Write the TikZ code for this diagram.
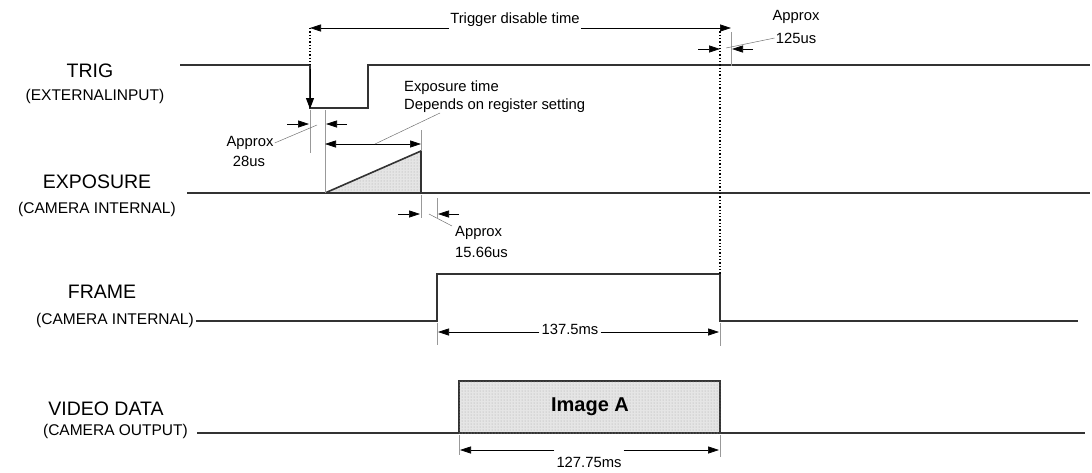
\documentclass[tikz,border=0pt]{standalone}
\usepackage{fontspec}
\setmainfont{Liberation Sans}
\usetikzlibrary{arrows.meta,patterns,calc}
\begin{document}
\begin{tikzpicture}[x=1pt,y=-1pt,
  sig/.style={line width=1.6pt, draw=black!80, line join=miter},
  tip/.style={line width=0.6pt, -{Triangle[length=11pt,width=7pt]}},
  dim/.style={line width=0.6pt, {Triangle[length=11pt,width=7pt]}-{Triangle[length=11pt,width=7pt]}},
  ext/.style={line width=0.7pt, draw=black!40},
  lead/.style={line width=0.5pt, draw=black!55},
  dots/.style={line width=1.3pt, dotted},
  sname/.style={font=\fontsize{19.5}{19.5}\selectfont, inner sep=0pt},
  ssub/.style={font=\fontsize{15.5}{15.5}\selectfont, inner sep=0pt},
  small/.style={font=\fontsize{14.8}{14.8}\selectfont, inner sep=1pt},
  shade/.style={fill=black!10, postaction={pattern=dots, pattern color=black!35}}
]
\useasboundingbox (0,0) rectangle (1092,472);

% ---------- labels ----------
\node[sname] (trig) at (90,71) {TRIG};
\node[ssub] (trigsub) at (95,96) {(EXTERNALINPUT)};
\node[sname] (expo) at (97,182) {EXPOSURE};
\node[ssub] (exposub) at (97,209) {(CAMERA INTERNAL)};
\node[sname] (frame) at (102,292) {FRAME};
\node[ssub, anchor=east] (framesub) at (194,320) {(CAMERA INTERNAL)};
\node[sname] (video) at (106,409) {VIDEO DATA};
\node[ssub, anchor=east] (videosub) at (188,431) {(CAMERA OUTPUT)};

% ---------- coordinates ----------
\coordinate (t0) at (180,65);
\coordinate (t1) at (310,65);
\coordinate (t2) at (310,108);
\coordinate (t3) at (368,108);
\coordinate (t4) at (368,65);
\coordinate (t5) at (1090,65);
\coordinate (ttop) at (310,28);
\coordinate (tarA) at (310,69);
\coordinate (tarB) at (310,109);

\coordinate (e0) at (187,193);
\coordinate (e1) at (325,193);
\coordinate (e2) at (421,151);
\coordinate (e3) at (421,193);
\coordinate (e4) at (1090,193);

\coordinate (f0) at (196,321);
\coordinate (f1) at (437,321);
\coordinate (f2) at (437,274);
\coordinate (f3) at (720,274);
\coordinate (f4) at (720,321);
\coordinate (f5) at (1078,321);
\coordinate (dtop) at (720,28);

\coordinate (v0) at (197,433);
\coordinate (v1) at (1085,433);
\coordinate (vb1) at (459,381);
\coordinate (vb2) at (720,433);

% ---------- signals ----------
\draw[shade] (e1) -- (e2) -- (e3) -- cycle;
\draw[sig] (t0) -- (t1) -- (t2) -- (t3) -- (t4) -- (t5);
\draw[sig] (e0) -- (e4);
\draw[sig] (e1) -- (e2) -- (e3);
\draw[sig] (f0) -- (f1) -- (f2) -- (f3) -- (f4) -- (f5);
\draw[sig] (v0) -- (v1);
\draw[sig, shade] (vb1) rectangle (vb2);
\node[font=\bfseries\fontsize{20}{20}\selectfont] (imga) at (590,407) {Image A};

% trigger edge arrow and dotted markers
\draw[dots] (ttop) -- (t1);
\draw[line width=1pt, -{Triangle[length=11pt,width=8pt]}] (tarA) -- (tarB);
\draw[dots] (dtop) -- (f3);

% ---------- Trigger disable time ----------
\coordinate (tdR) at (731,28);
\node[small, anchor=base] (tdt) at (515,23) {Trigger disable time};
\draw[tip] (tdt.west |- ttop) -- (ttop);
\draw[tip] (tdt.east |- tdR) -- (tdR);

% ---------- Approx 125us ----------
\coordinate (x125a) at (731,32);
\coordinate (x125b) at (731,66);
\draw[ext] (x125a) -- (x125b);
\coordinate (a125l) at (698,49);
\coordinate (a125lt) at (720,49);
\coordinate (a125r) at (753,49);
\coordinate (a125rt) at (732,49);
\draw[tip] (a125l) -- (a125lt);
\draw[tip] (a125r) -- (a125rt);
\node[small] (ap125) at (796,17) {Approx};
\node[small] (v125) at (796,38) {125us};
\coordinate (l125) at (726,48);
\draw[lead] (l125) -- (v125.west);

% ---------- Approx 28us ----------
\coordinate (x28a) at (310,110);
\coordinate (x28b) at (310,153);
\coordinate (x28c) at (325,110);
\draw[ext] (x28a) -- (x28b);
\draw[ext] (x28c) -- (e1);
\coordinate (a28l) at (287,124);
\coordinate (a28lt) at (309,124);
\coordinate (a28r) at (347,124);
\coordinate (a28rt) at (326,124);
\draw[tip] (a28l) -- (a28lt);
\draw[tip] (a28r) -- (a28rt);
\node[small] (ap28) at (250,143) {Approx};
\node[small] (v28) at (249,161) {28us};
\coordinate (l28) at (317,125);
\draw[lead] (ap28.east) -- (l28);

% ---------- Exposure time ----------
\coordinate (xe1) at (421,130);
\draw[ext] (xe1) -- (e2);
\coordinate (etl) at (325,144);
\coordinate (etr) at (421,144);
\draw[dim] (etl) -- (etr);
\node[small, anchor=west] (et1) at (403,88) {Exposure time};
\node[small, anchor=west] (et2) at (403,106) {Depends on register setting};
\coordinate (le) at (375,144);
\coordinate (le2) at (440,113);
\draw[lead] (le) -- (le2);

% ---------- Approx 15.66us ----------
\coordinate (x15a) at (421,195);
\coordinate (x15b) at (421,218);
\coordinate (x15c) at (437,198);
\coordinate (x15d) at (437,218);
\draw[ext] (x15a) -- (x15b);
\draw[ext] (x15c) -- (x15d);
\coordinate (a15l) at (398,214);
\coordinate (a15lt) at (420,214);
\coordinate (a15r) at (459,214);
\coordinate (a15rt) at (438,214);
\draw[tip] (a15l) -- (a15lt);
\draw[tip] (a15r) -- (a15rt);
\node[small, anchor=west] (ap15) at (454,233) {Approx};
\node[small, anchor=west] (v15) at (454,252) {15.66us};
\coordinate (l15) at (429,214);
\coordinate (l15b) at (452,226);
\draw[lead] (l15) -- (l15b);

% ---------- 137.5ms ----------
\coordinate (x137a) at (437,323);
\coordinate (x137b) at (437,345);
\coordinate (x137c) at (720,323);
\coordinate (x137d) at (720,346);
\draw[ext] (x137a) -- (x137b);
\draw[ext] (x137c) -- (x137d);
\coordinate (d137l) at (438,332);
\coordinate (d137r) at (719,332);
\node[small, inner sep=2pt] (t137) at (570,329) {137.5ms};
\draw[tip] (t137.west |- d137l) -- (d137l);
\draw[tip] (t137.east |- d137r) -- (d137r);

% ---------- 127.75ms ----------
\coordinate (x127a) at (459,435);
\coordinate (x127b) at (459,455);
\coordinate (x127c) at (720,435);
\coordinate (x127d) at (720,457);
\draw[ext] (x127a) -- (x127b);
\draw[ext] (x127c) -- (x127d);
\coordinate (d127l) at (460,450);
\coordinate (d127r) at (719,450);
\node[small, inner sep=2pt] (t127) at (589,462) {127.75ms};
\draw[tip] (t127.west |- d127l) -- (d127l);
\draw[tip] (t127.east |- d127r) -- (d127r);
\end{tikzpicture}
\end{document}
